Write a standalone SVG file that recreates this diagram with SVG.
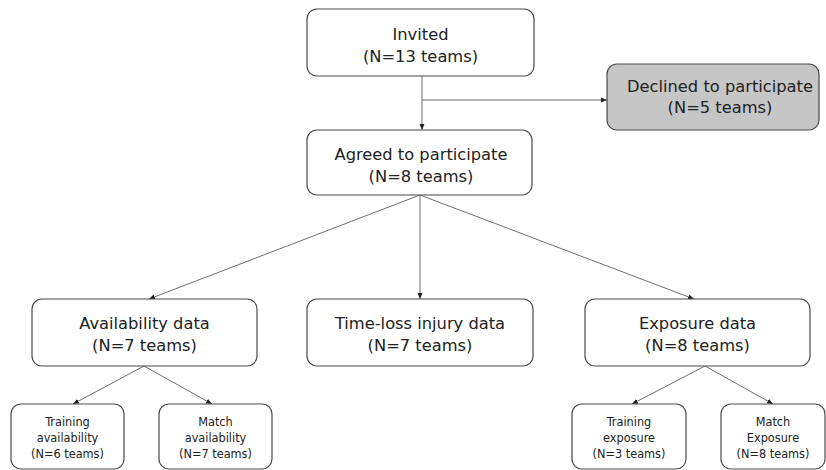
<svg xmlns="http://www.w3.org/2000/svg" width="826" height="470" viewBox="0 0 826 470">
<style>
.box{fill:#fff;stroke:#4a4a4a;stroke-width:1.2}
.grey{fill:#c6c6c6}
.t{font-family:"DejaVu Sans",Verdana,sans-serif;fill:#222;text-anchor:middle}
.l{font-size:16.3px}
.s{font-family:"DejaVu Sans Condensed","DejaVu Sans",sans-serif;font-size:12.6px}
.c{stroke:#6e6e6e;stroke-width:1;fill:none;marker-end:url(#ah)}
</style>
<defs>
<marker id="ah" viewBox="0 0 6 6" refX="6" refY="3" markerWidth="6" markerHeight="6" orient="auto" markerUnits="userSpaceOnUse">
<path d="M0,0.5 L6,3 L0,5.5 Z" fill="#222"/>
</marker>
</defs>
<rect width="826" height="470" fill="#fff"/>
<g id="connectors">
<path class="c" d="M422,76 V130"/>
<path class="c" d="M422,100 H607"/>
<path class="c" d="M420,195 L149,299"/>
<path class="c" d="M420,195 V299"/>
<path class="c" d="M420,195 L694,299"/>
<path class="c" d="M144,366 L73,404"/>
<path class="c" d="M144,366 L212,404"/>
<path class="c" d="M705,366 L632,404"/>
<path class="c" d="M705,366 L773,404"/>
</g>
<g id="invited">
<rect class="box" x="307" y="9" width="227" height="67" rx="10"/>
<text class="t l" x="420.5" y="40">Invited</text>
<text class="t l" x="420.5" y="62">(N=13 teams)</text>
</g>
<g id="declined">
<rect class="box grey" x="607" y="64" width="212" height="66" rx="10"/>
<text class="t l" x="720" y="92">Declined to participate</text>
<text class="t l" x="720" y="113">(N=5 teams)</text>
</g>
<g id="agreed">
<rect class="box" x="307" y="130" width="225" height="65" rx="10"/>
<text class="t l" x="421" y="160">Agreed to participate</text>
<text class="t l" x="421" y="182">(N=8 teams)</text>
</g>
<g id="availability">
<rect class="box" x="32" y="299" width="225" height="67" rx="10"/>
<text class="t l" x="144.5" y="329">Availability data</text>
<text class="t l" x="144.5" y="351">(N=7 teams)</text>
</g>
<g id="timeloss">
<rect class="box" x="307" y="299" width="226" height="67" rx="10"/>
<text class="t l" x="420" y="329">Time-loss injury data</text>
<text class="t l" x="420" y="351">(N=7 teams)</text>
</g>
<g id="exposure">
<rect class="box" x="585" y="299" width="225" height="67" rx="10"/>
<text class="t l" x="697.5" y="329">Exposure data</text>
<text class="t l" x="697.5" y="351">(N=8 teams)</text>
</g>
<g id="training-availability">
<rect class="box" x="11" y="404" width="113" height="65" rx="10"/>
<text class="t s" x="67.5" y="426">Training</text>
<text class="t s" x="67.5" y="442">availability</text>
<text class="t s" x="67.5" y="458">(N=6 teams)</text>
</g>
<g id="match-availability">
<rect class="box" x="159" y="404" width="113" height="65" rx="10"/>
<text class="t s" x="215.5" y="426">Match</text>
<text class="t s" x="215.5" y="442">availability</text>
<text class="t s" x="215.5" y="458">(N=7 teams)</text>
</g>
<g id="training-exposure">
<rect class="box" x="572" y="404" width="114" height="65" rx="10"/>
<text class="t s" x="629" y="426">Training</text>
<text class="t s" x="629" y="442">exposure</text>
<text class="t s" x="629" y="458">(N=3 teams)</text>
</g>
<g id="match-exposure">
<rect class="box" x="721" y="404" width="104" height="65" rx="10"/>
<text class="t s" x="773" y="426">Match</text>
<text class="t s" x="773" y="442">Exposure</text>
<text class="t s" x="773" y="458">(N=8 teams)</text>
</g>
</svg>
